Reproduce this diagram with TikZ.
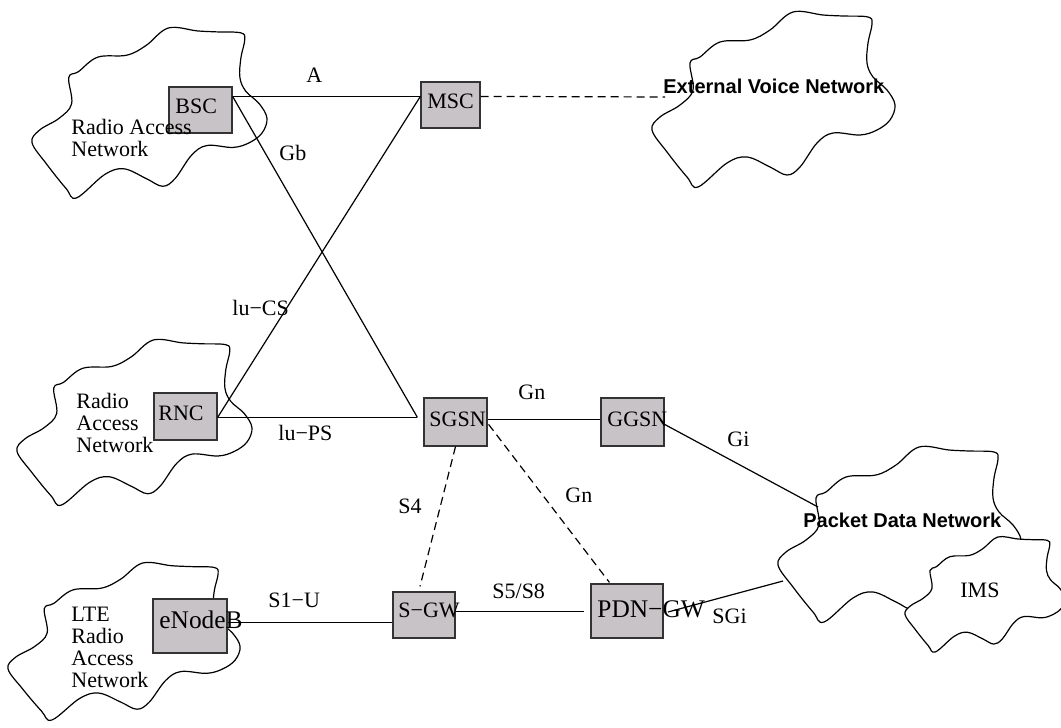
\documentclass[tikz,border=0pt]{standalone}
\usepackage{fontspec}
\setmainfont{Liberation Serif}
\newfontfamily\netsans{Liberation Sans}
\usetikzlibrary{calc}
\definecolor{boxgray}{RGB}{199,195,199}
\tikzset{
  netcloud/.pic={
    \draw[line width=0.6pt, pic actions] plot[smooth cycle, tension=0.6] coordinates {
      (141,0) (171,3) (191,4) (216,5) (220,12) (216,31) (215,51) (221,65)
      (235,78) (243,93) (238,108) (225,118) (208,123) (181,121) (165,131)
      (148,155) (135,163) (118,155) (95,145) (75,151) (46,175) (35,165)
      (15,140) (0,118) (8,105) (28,93) (41,78) (38,51) (48,45) (68,30)
      (98,28) (118,18)};
  },
  netbox/.style={draw=black!80, line width=0.6pt, fill=boxgray, inner sep=0pt},
  lbl/.style={inner sep=0pt, anchor=base west, font=\fontsize{11}{11}\selectfont},
  biglbl/.style={inner sep=0pt, anchor=base west, font=\fontsize{12.7}{13}\selectfont},
  netlbl/.style={inner sep=0pt, anchor=base west, font=\netsans\bfseries\fontsize{10}{11}\selectfont},
  cloudtxt/.style={inner sep=0pt, anchor=north west, align=left, font=\fontsize{11}{11}\selectfont},
  link/.style={line width=0.6pt},
  dlink/.style={line width=0.6pt, dash pattern=on 4pt off 2.5pt},
}
\begin{document}
\begin{tikzpicture}[x=0.5pt,y=-0.5pt]
\useasboundingbox (0,0) rectangle (1061,728);
% clouds
\pic[xscale=0.967, yscale=0.971] at (32,28) {netcloud};
\pic[xscale=0.967, yscale=0.943] at (17,340) {netcloud};
\pic[xscale=0.955, yscale=0.897] at (8,563) {netcloud};
\pic at (652,12) {netcloud};
\pic at (778,447) {netcloud};
\pic[xscale=0.658, yscale=0.657, fill=white] at (905,537) {netcloud};
% boxes
\node[netbox, minimum width=31.5pt, minimum height=23pt] (bsc) at (200.5,110) {};
\node[netbox, minimum width=29.5pt, minimum height=23pt] (msc) at (450.5,105) {};
\node[netbox, minimum width=31.5pt, minimum height=23.5pt] (rnc) at (185.5,416.5) {};
\node[netbox, minimum width=31.5pt, minimum height=24pt] (sgsn) at (455.5,422) {};
\node[netbox, minimum width=31.5pt, minimum height=24pt] (ggsn) at (632.5,422) {};
\node[netbox, minimum width=31pt, minimum height=23pt] (sgw) at (424,615) {};
\node[netbox, minimum width=36pt, minimum height=27pt] (pdngw) at (627,611) {};
\node[netbox, minimum width=37pt, minimum height=27pt] (enb) at (190,626) {};
% connection points
\coordinate (bscA) at ($(bsc.north east)+(0,10)$);
\coordinate (mscA) at ($(msc.north west)+(0,15)$);
\coordinate (mscE) at ($(msc.north east)+(0,15)$);
\coordinate (extV) at (665,97);
\coordinate (sgsnL) at ($(sgsn.north west)+(-6,20)$);
\coordinate (rncR) at ($(rnc.north east)+(0,25)$);
\coordinate (sgsnR) at ($(sgsn.north east)+(0,22)$);
\coordinate (ggsnL) at ($(ggsn.north west)+(0,22)$);
\coordinate (ggsnR) at ($(ggsn.north east)+(0,27)$);
\coordinate (pdnGi) at (818,507);
\coordinate (sgsnB) at (sgsn.south);
\coordinate (sgwT) at ($(sgw.north)+(-4,-5)$);
\coordinate (sgsnD) at ($(sgsn.north east)+(1,27)$);
\coordinate (pdngwT) at ($(pdngw.north west)+(19,-1)$);
\coordinate (sgwR) at ($(sgw.north east)+(0,20)$);
\coordinate (pdngwL) at ($(pdngw.north west)+(-6,28)$);
\coordinate (pdngwR) at (668,612);
\coordinate (pdnSGi) at (783,581);
\coordinate (enbR) at ($(enb.north east)+(0,24)$);
\coordinate (sgwL) at ($(sgw.north west)+(0,31)$);
% links
\draw[link] (bscA) -- (mscA);
\draw[dlink] (mscE) -- (extV);
\draw[link] (bscA) -- (sgsnL);
\draw[link] (rncR) -- (sgsnL);
\draw[link] (rncR) -- (mscA);
\draw[link] (sgsnR) -- (ggsnL);
\draw[link] (ggsnR) -- (pdnGi);
\draw[dlink] (sgsnB) -- (sgwT);
\draw[dlink] (sgsnD) -- (pdngwT);
\draw[link] (sgwR) -- (pdngwL);
\draw[link] (pdngwR) -- (pdnSGi);
\draw[link] (enbR) -- (sgwL);
% box texts
\node[lbl] (tbsc) at (175,113) {BSC};
\node[lbl] (tmsc) at (427,108) {MSC};
\node[lbl] (trnc) at (158,420) {RNC};
\node[lbl] (tsgsn) at (429,426) {SGSN};
\node[lbl] (tggsn) at (607,426) {GGSN};
\node[lbl] (tsgw) at (398,617) {S−GW};
\node[biglbl] (tpdngw) at (597,617) {PDN−GW};
\node[biglbl] (tenb) at (159,628) {eNodeB};
% link labels
\node[lbl] (la) at (306,82) {A};
\node[lbl] (lgb) at (279,160) {Gb};
\node[lbl] (lcs) at (232,315) {lu−CS};
\node[lbl] (lps) at (278,440) {lu−PS};
\node[lbl] (lgn1) at (518,399) {Gn};
\node[lbl] (lgi) at (727,446) {Gi};
\node[lbl] (ls4) at (398,513) {S4};
\node[lbl] (lgn2) at (565,502) {Gn};
\node[lbl] (ls5) at (492,598) {S5/S8};
\node[lbl] (ls1) at (268,607) {S1−U};
\node[lbl] (lsgi) at (712,623) {SGi};
% network labels
\node[netlbl] (next) at (663,93) {External Voice Network};
\node[netlbl] (npdn) at (803,527) {Packet Data Network};
\node[lbl] (nims) at (960,597) {IMS};
\node[cloudtxt] (ran1) at (71,119) {Radio Access\\Network};
\node[cloudtxt] (ran2) at (76,393) {Radio\\Access\\Network};
\node[cloudtxt] (ran3) at (71,607) {LTE\\Radio\\Access\\Network};
\end{tikzpicture}
\end{document}
